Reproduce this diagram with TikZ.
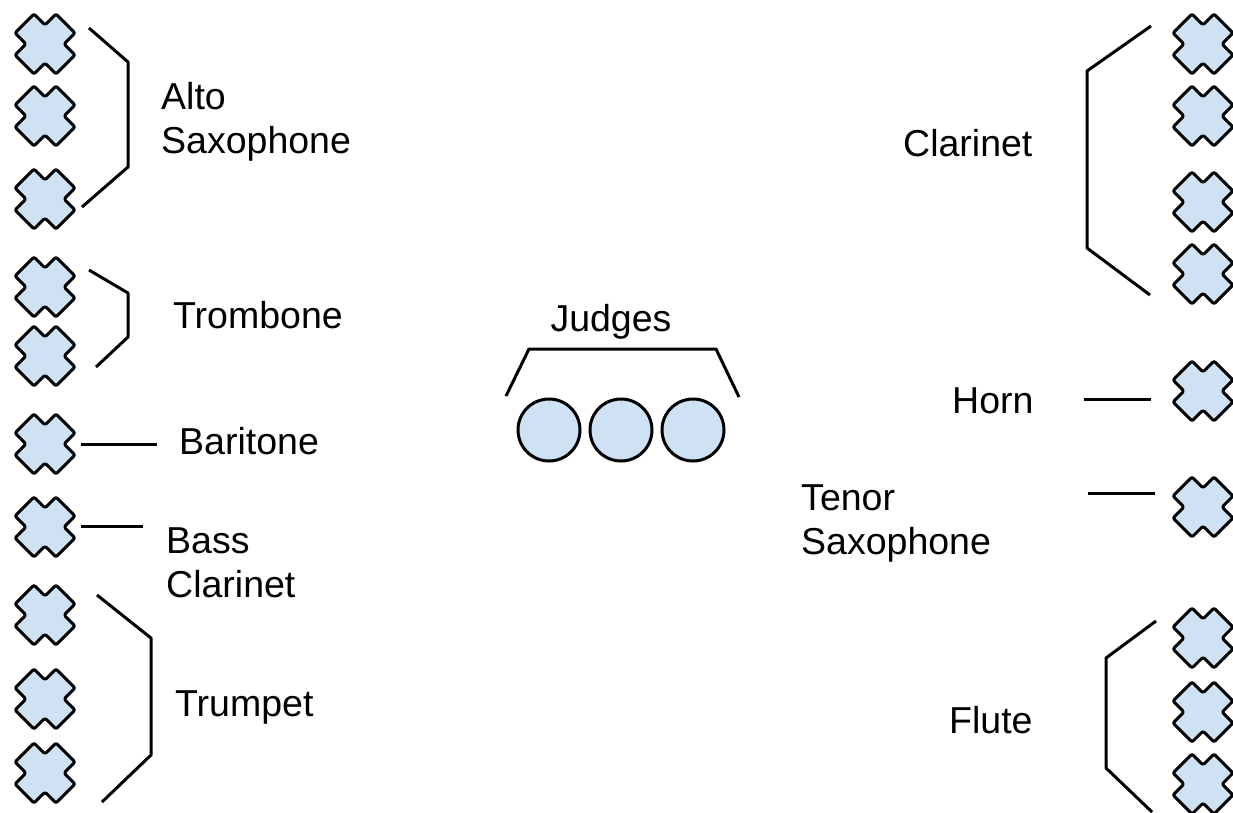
\documentclass[tikz,border=0pt]{standalone}
\usepackage{fontspec}
\setmainfont{Liberation Sans}
\definecolor{seat}{HTML}{CFE2F3}
\tikzset{
  instr/.style={font=\fontsize{37.5}{44}\selectfont, inner sep=0pt, align=left, anchor=base west},
  brace/.style={draw=black, line width=3pt, line join=round},
  tie/.style={draw=black, line width=3pt},
  judge/.style={circle, draw=black, line width=3pt, fill=seat, minimum size=62pt, inner sep=0pt},
  player/.pic={
    \path[draw=black, line width=3pt, fill=seat, line join=round, rounded corners=2pt, rotate=45]
      (13.5,13.5) -- (13.5,29) -- (-13.5,29) -- (-13.5,13.5) -- (-29,13.5) -- (-29,-13.5)
      -- (-13.5,-13.5) -- (-13.5,-29) -- (13.5,-29) -- (13.5,-13.5) -- (29,-13.5) -- (29,13.5) -- cycle;
    \coordinate (-c) at (0,0);
  }
}

\begin{document}
\begin{tikzpicture}[x=1pt, y=-1pt]
  \useasboundingbox (0,0) rectangle (1233,812);
  \fill[white] (0,0) rectangle (1233,812);

  % left side
  \pic (alto1) at (45,44) {player};
  \pic (alto2) at (45,116) {player};
  \pic (alto3) at (45,199) {player};
  \pic (bone1) at (45,287) {player};
  \pic (bone2) at (45,356) {player};
  \pic (bari) at (45,444) {player};
  \pic (bcl) at (45,527) {player};
  \pic (tpt1) at (45,615) {player};
  \pic (tpt2) at (45,699) {player};
  \pic (tpt3) at (45,773) {player};

  % two-line labels sit on the baseline of their last line
  \node[instr] (altolbl) at (161,153) {Alto\\Saxophone};
  \node[instr] (bonelbl) at (173,328) {Trombone};
  \node[instr] (barilbl) at (179,454) {Baritone};
  \node[instr] (bcllbl) at (166,597) {Bass\\Clarinet};
  \node[instr] (tptlbl) at (175,716) {Trumpet};

  \draw[brace] (89,28) -- (128,62) -- (128,167) -- (82,207);
  \draw[brace] (89,270) -- (128,293) -- (128,337) -- (96,367);
  \draw[brace] (97,595) -- (151,638) -- (151,755) -- (102,802);
  \draw[tie] ([xshift=36pt]bari-c) -- ([xshift=-22pt]barilbl.west |- bari-c);
  \draw[tie] ([xshift=36pt,yshift=1pt]bcl-c) -- ++(62,0);

  % judges in the middle
  \node[judge] (j1) at (549,430) {};
  \node[judge] (j2) at (621,430) {};
  \node[judge] (j3) at (693,430) {};
  \node[instr, anchor=base] (judgeslbl) at (611,331) {Judges};
  \draw[brace] (506,396) -- (529,349) -- (716,349) -- (739,397);

  % right side
  \pic (cl1) at (1203,44) {player};
  \pic (cl2) at (1203,116) {player};
  \pic (cl3) at (1203,202) {player};
  \pic (cl4) at (1203,274) {player};
  \pic (hn) at (1203,391) {player};
  \pic (ten) at (1203,507) {player};
  \pic (fl1) at (1203,638) {player};
  \pic (fl2) at (1203,712) {player};
  \pic (fl3) at (1203,784) {player};

  \node[instr] (cllbl) at (903,156) {Clarinet};
  \node[instr] (hnlbl) at (952,413) {Horn};
  \node[instr] (tenlbl) at (801,554) {Tenor\\Saxophone};
  \node[instr] (fllbl) at (949,733) {Flute};

  \draw[brace] (1151,26) -- (1087,71) -- (1087,248) -- (1150,295);
  \draw[brace] (1156,621) -- (1106,658) -- (1106,768) -- (1152,812);
  \draw[tie] ([xshift=-52pt,yshift=-8pt]hn-c) -- ++(-67,0);
  \draw[tie] ([xshift=-48pt,yshift=14pt]ten-c) -- ++(-67,0);
\end{tikzpicture}
\end{document}
